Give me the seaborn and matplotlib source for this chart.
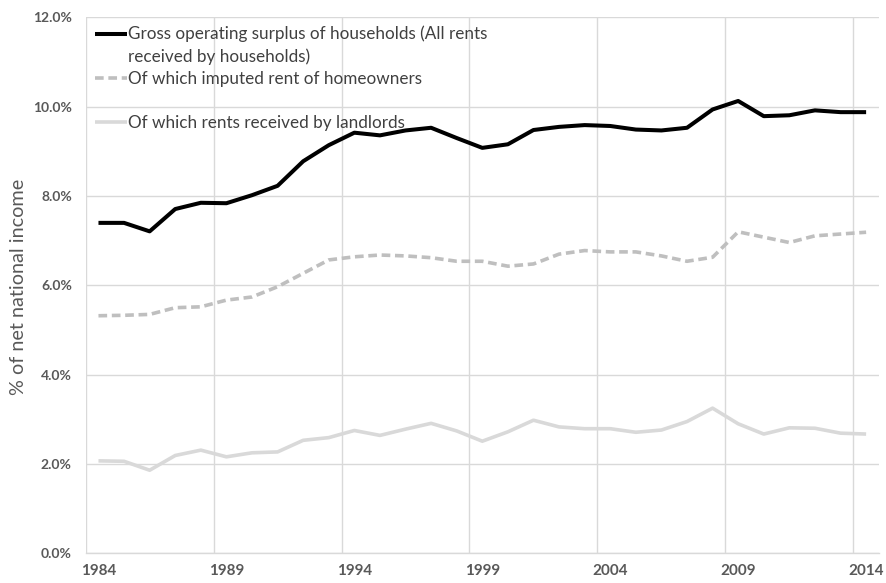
import numpy as np
import seaborn as sns
import matplotlib.pyplot as plt
from matplotlib.legend_handler import HandlerLine2D
from matplotlib.ticker import FuncFormatter

# share of net national income, %
years = list(range(1984, 2015))
gross_surplus = [7.40, 7.40, 7.21, 7.71, 7.85, 7.84, 8.02, 8.23, 8.78, 9.14,
                 9.42, 9.36, 9.47, 9.53, 9.30, 9.08, 9.16, 9.48, 9.55, 9.59,
                 9.57, 9.49, 9.47, 9.53, 9.94, 10.13, 9.79, 9.81, 9.92, 9.88, 9.88]
imputed_rent = [5.32, 5.33, 5.35, 5.50, 5.52, 5.67, 5.74, 5.97, 6.27, 6.57,
                6.64, 6.68, 6.66, 6.62, 6.54, 6.54, 6.43, 6.48, 6.70, 6.78,
                6.75, 6.75, 6.66, 6.54, 6.63, 7.20, 7.08, 6.96, 7.11, 7.15, 7.19]
landlord_rents = [2.07, 2.06, 1.86, 2.19, 2.31, 2.16, 2.25, 2.27, 2.53, 2.59,
                  2.75, 2.64, 2.78, 2.91, 2.74, 2.51, 2.72, 2.98, 2.83, 2.79,
                  2.79, 2.71, 2.76, 2.95, 3.25, 2.90, 2.67, 2.81, 2.80, 2.69, 2.67]

labels = ["Gross operating surplus of households (All rents\nreceived by households)",
          "Of which imputed rent of homeowners",
          "Of which rents received by landlords"]

sns.set_theme(style="white")
plt.rcParams['font.family'] = ['Lato', 'DejaVu Sans']

fig, ax = plt.subplots(figsize=(8.86, 5.83), dpi=100)
fig.subplots_adjust(left=0.0967, right=0.992, top=0.970, bottom=0.051)

sns.lineplot(x=years, y=landlord_rents, color='#D9D9D9', linewidth=2.6, ax=ax)
sns.lineplot(x=years, y=imputed_rent, color='#BFBFBF', linewidth=2.6, ax=ax)
sns.lineplot(x=years, y=gross_surplus, color='black', linewidth=2.9, ax=ax)
line_land, line_imp, line_gross = ax.lines[:3]
line_imp.set_dashes((2.4, 1.3))
for ln in ax.lines:
    ln.set_solid_capstyle('butt')

ax.set_xlim(1983.5, 2014.5)
ax.set_ylim(0, 12)
ax.set_xticks(years[::5])
ax.set_xticks(np.arange(1983.5, 2014, 5), minor=True)
ax.set_yticks(np.arange(0, 12.1, 2))
ax.yaxis.set_major_formatter(FuncFormatter(lambda v, p: f"{v:.1f}%"))
ax.grid(False)
ax.yaxis.grid(True, color='#D9D9D9', linewidth=1)
ax.xaxis.grid(True, which='minor', color='#D9D9D9', linewidth=1)
ax.set_axisbelow(True)
for s in ['top', 'right', 'left']:
    ax.spines[s].set_visible(False)
ax.spines['bottom'].set_color('#D9D9D9')
ax.spines['bottom'].set_linewidth(1)
ax.tick_params(which='both', length=0)
ax.tick_params(axis='y', pad=10, labelsize=10, labelcolor='#595959')
ax.tick_params(axis='x', pad=8, labelsize=11, labelcolor='#595959')
for t in ax.get_xticklabels() + ax.get_yticklabels():
    t.set_fontweight('bold')
ax.set_xlabel("")
ax.set_ylabel("% of net national income", fontsize=14.3, color='#595959')
ax.yaxis.set_label_coords(-0.074, 0.497)


class FirstLineHandler(HandlerLine2D):
    def __init__(self, shift=0, **kw):
        super().__init__(**kw)
        self.shift = shift

    def create_artists(self, legend, orig_handle, xdescent, ydescent,
                       width, height, fontsize, trans):
        arts = super().create_artists(legend, orig_handle, xdescent, ydescent,
                                      width, height, fontsize, trans)
        for a in arts:
            a.set_ydata(np.asarray(a.get_ydata()) + self.shift)
        return arts


def add_entry(handle, label, top_px, shift=0):
    leg = fig.legend(handles=[handle], labels=[label], loc='upper left',
                     bbox_to_anchor=(95 / 886, 1 - top_px / 583),
                     bbox_transform=fig.transFigure, frameon=False,
                     borderpad=0, borderaxespad=0, handlelength=1.85,
                     handletextpad=0.1, fontsize=12.3, labelcolor='#404040',
                     handler_map={handle: FirstLineHandler(shift=shift)})
    for t in leg.get_texts():
        t.set_linespacing(1.52)
    return leg


add_entry(line_gross, labels[0], 25, shift=8.0)
add_entry(line_imp, labels[1], 71)
add_entry(line_land, labels[2], 115)

fig.savefig("out.png", dpi=100)
